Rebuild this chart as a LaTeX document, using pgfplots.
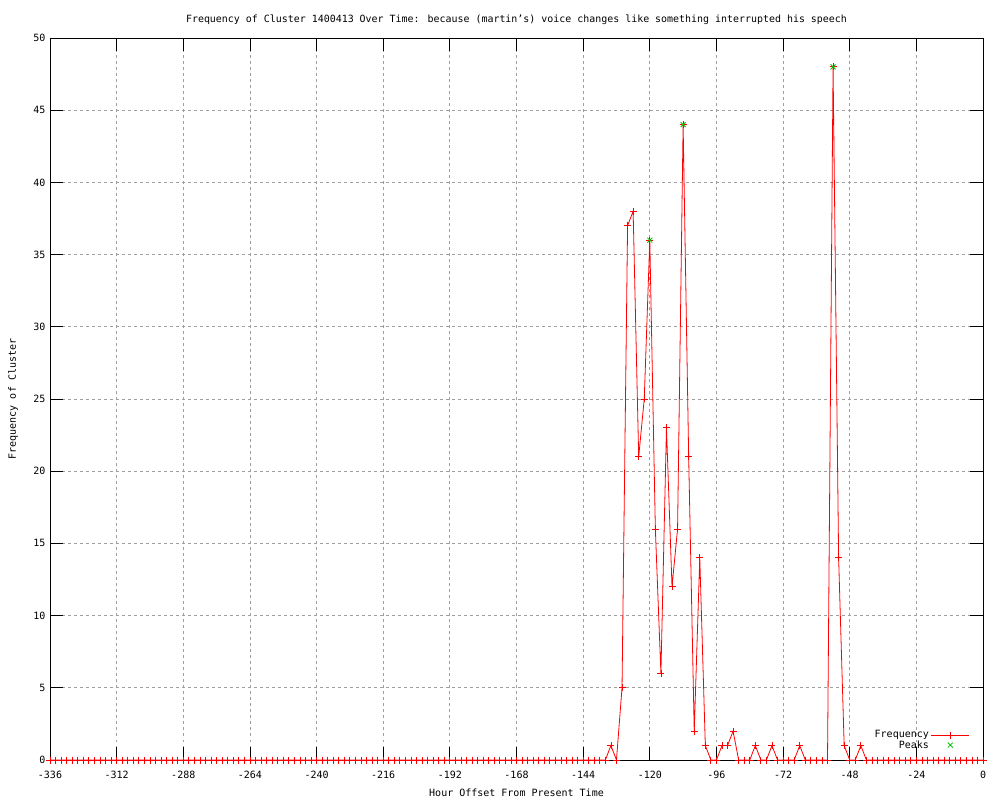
\documentclass[border=0pt]{standalone}
\usepackage{fontspec}
\setmainfont{DejaVu Sans Mono}
\usepackage{pgfplots}
\pgfplotsset{compat=1.18}
\definecolor{gpred}{RGB}{255,0,0}
\definecolor{gpgreen}{RGB}{0,192,0}
\begin{document}
\fontsize{10pt}{12pt}\selectfont
\begin{tikzpicture}
\begin{axis}[
  scale only axis,
  width=933pt, height=722pt,
  at={(0,0)}, anchor=south west,
  xmin=-336, xmax=0, ymin=0, ymax=50,
  xtick={-336,-312,...,0},
  ytick={0,5,...,50},
  /pgf/number format/assume math mode=true,
  /pgf/number format/.cd, int detect, /pgfplots/.cd,
  ticklabel style={font=\fontsize{10pt}{12pt}\selectfont},
  tick align=inside,
  major tick length=13pt,
  tick style={black, line width=0.8pt},
  axis line style={black, line width=0.8pt},
  grid=major,
  grid style={gray!75, dashed, line width=0.8pt, dash pattern=on 2.5pt off 3.5pt},
  xlabel={Hour Offset From Present Time},
  ylabel={Frequency of Cluster},
  xlabel style={at={(axis description cs:0.5,0)}, anchor=center, yshift=-33pt, font=\fontsize{10pt}{12pt}\selectfont},
  ylabel style={at={([xshift=-37pt]axis description cs:0,0.5)}, anchor=center, font=\fontsize{10pt}{12pt}\selectfont},
  title={Frequency of Cluster 1400413 Over Time: because (martin's) voice changes like something interrupted his speech},
  title style={at={(axis description cs:0.5,1)}, anchor=center, yshift=12pt, font=\fontsize{9.95pt}{12pt}\selectfont},
  xticklabel style={yshift=-8pt},
  yticklabel style={xshift=-1pt},
  clip=false,
  legend image code/.code={\draw[mark repeat=2,mark phase=2,#1] plot coordinates {(0pt,0pt)(19pt,0pt)(38pt,0pt)};},
  legend style={draw=none, fill=none, at={(rel axis cs:0.987,0.01)}, anchor=south east,
    font=\fontsize{10pt}{12pt}\selectfont, row sep=-3pt, inner sep=1pt},
  legend cell align=right,
  legend plot pos=right,
]
\addplot[color=gpred, line width=0.8pt, mark=+, mark size=3.5pt, mark options={draw=gpred, solid, line width=0.8pt}] coordinates {
(-336,0)(-334,0)(-332,0)(-330,0)(-328,0)(-326,0)(-324,0)(-322,0)(-320,0)(-318,0)
(-316,0)(-314,0)(-312,0)(-310,0)(-308,0)(-306,0)(-304,0)(-302,0)(-300,0)(-298,0)
(-296,0)(-294,0)(-292,0)(-290,0)(-288,0)(-286,0)(-284,0)(-282,0)(-280,0)(-278,0)
(-276,0)(-274,0)(-272,0)(-270,0)(-268,0)(-266,0)(-264,0)(-262,0)(-260,0)(-258,0)
(-256,0)(-254,0)(-252,0)(-250,0)(-248,0)(-246,0)(-244,0)(-242,0)(-240,0)(-238,0)
(-236,0)(-234,0)(-232,0)(-230,0)(-228,0)(-226,0)(-224,0)(-222,0)(-220,0)(-218,0)
(-216,0)(-214,0)(-212,0)(-210,0)(-208,0)(-206,0)(-204,0)(-202,0)(-200,0)(-198,0)
(-196,0)(-194,0)(-192,0)(-190,0)(-188,0)(-186,0)(-184,0)(-182,0)(-180,0)(-178,0)
(-176,0)(-174,0)(-172,0)(-170,0)(-168,0)(-166,0)(-164,0)(-162,0)(-160,0)(-158,0)
(-156,0)(-154,0)(-152,0)(-150,0)(-148,0)(-146,0)(-144,0)(-142,0)(-140,0)(-138,0)
(-136,0)(-134,1)(-132,0)(-130,5)(-128,37)(-126,38)(-124,21)(-122,25)(-120,36)(-118,16)
(-116,6)(-114,23)(-112,12)(-110,16)(-108,44)(-106,21)(-104,2)(-102,14)(-100,1)(-98,0)
(-96,0)(-94,1)(-92,1)(-90,2)(-88,0)(-86,0)(-84,0)(-82,1)(-80,0)(-78,0)
(-76,1)(-74,0)(-72,0)(-70,0)(-68,0)(-66,1)(-64,0)(-62,0)(-60,0)(-58,0)
(-56,0)(-54,48)(-52,14)(-50,1)(-48,0)(-46,0)(-44,1)(-42,0)(-40,0)(-38,0)
(-36,0)(-34,0)(-32,0)(-30,0)(-28,0)(-26,0)(-24,0)(-22,0)(-20,0)(-18,0)
(-16,0)(-14,0)(-12,0)(-10,0)(-8,0)(-6,0)(-4,0)(-2,0)(0,0)
};
\addlegendentry{Frequency}
\addplot[only marks, color=gpgreen, mark=x, mark size=3.5pt, mark options={draw=gpgreen, solid, line width=0.8pt}] coordinates {
(-120,36)(-108,44)(-54,48)
};
\addlegendentry{Peaks}
\end{axis}
\path (-50pt,-40pt) rectangle (950pt,760pt);
\end{tikzpicture}
\end{document}
